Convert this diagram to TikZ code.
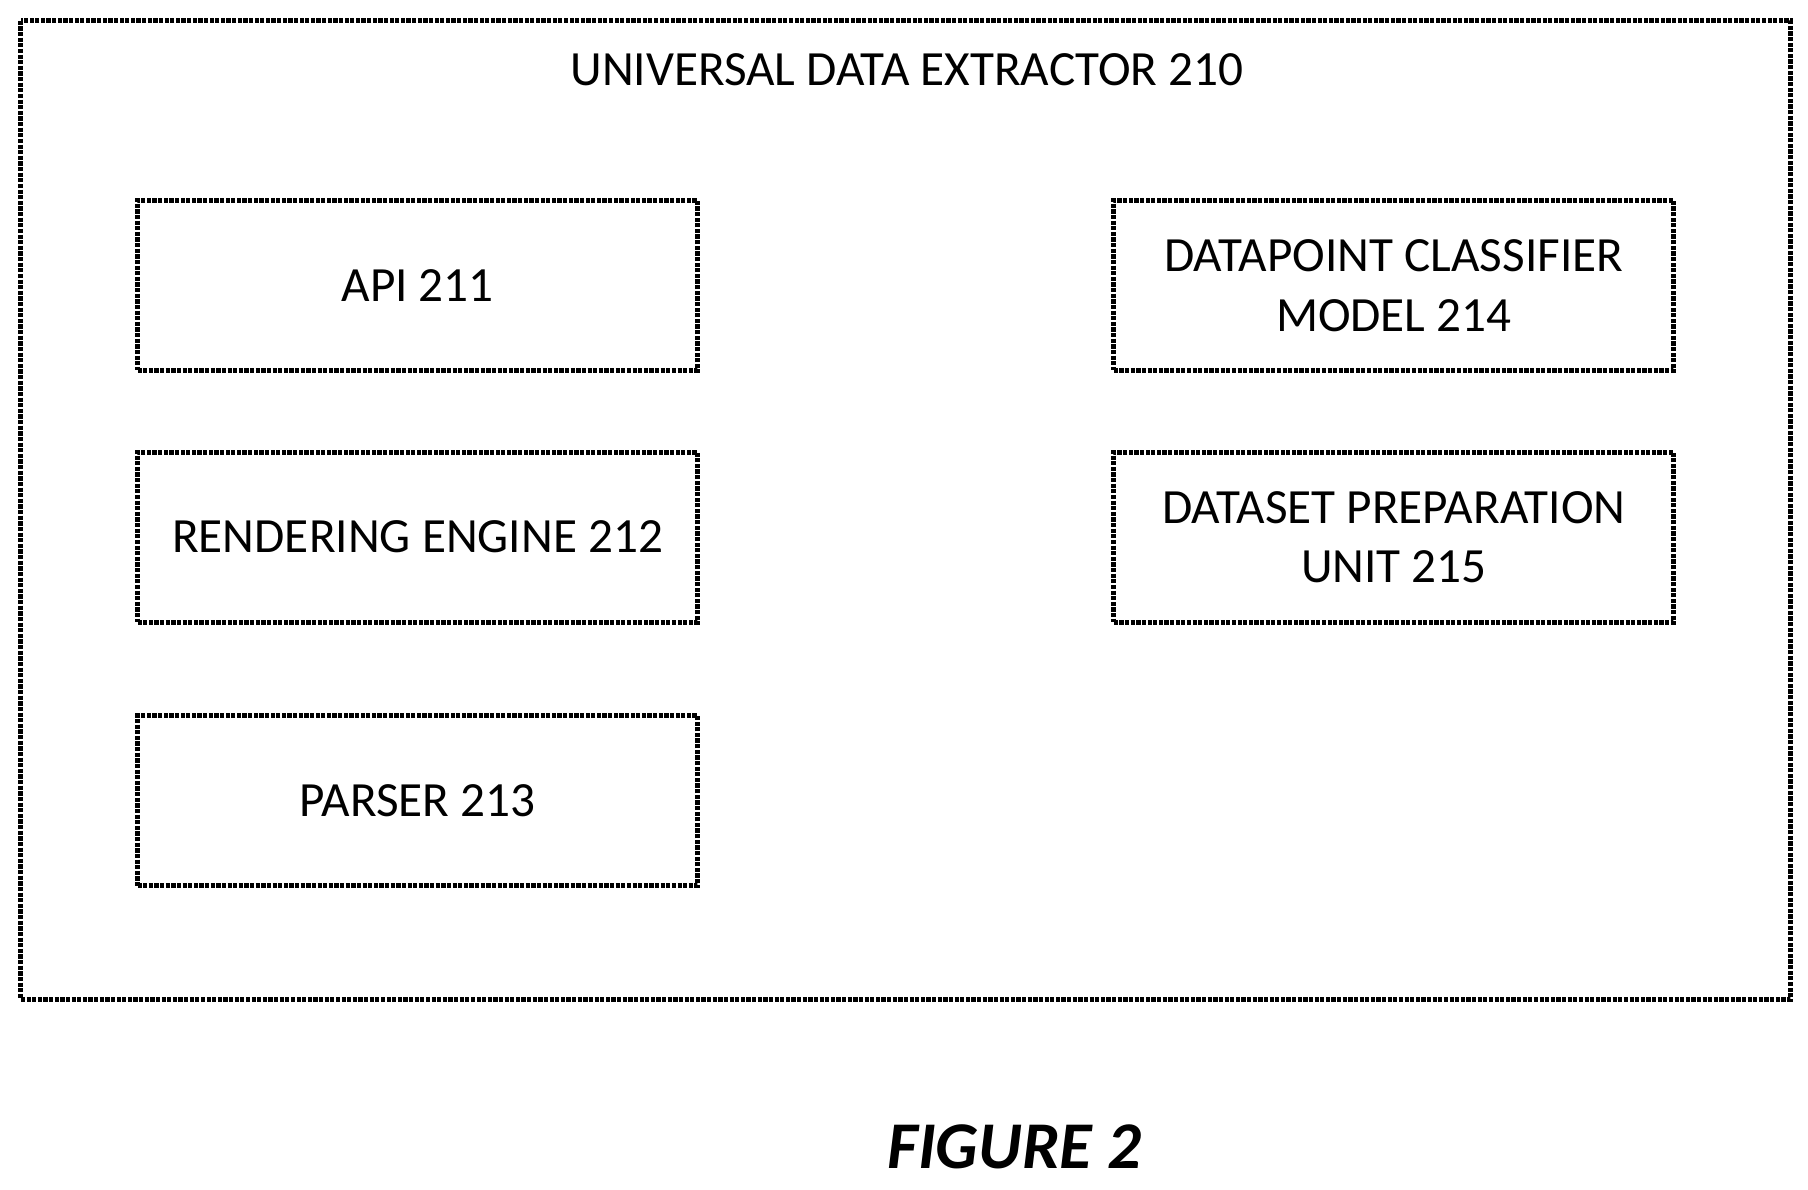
\documentclass[tikz,border=0pt]{standalone}
\usepackage{fontspec}
\setmainfont{Carlito}
\usetikzlibrary{positioning}
\tikzset{
  unit/.style={draw,line width=1.4pt,dash pattern=on 1.2pt off 0.4pt,minimum width=5.6cm,minimum height=1.7cm,align=center,font=\fontsize{14}{17}\selectfont}
}
\begin{document}
\begin{tikzpicture}[x=0.01155cm,y=-0.01155cm]
\useasboundingbox(0,0)rectangle(1565,1029.5);
\draw[line width=1.4pt,dash pattern=on 1.2pt off 0.4pt](18,18)rectangle(1550,865); %extractor
\node[font=\fontsize{14}{17}\selectfont](title)at(785,60){UNIVERSAL DATA EXTRACTOR 210};
%left column
\node[unit](api)at(361.5,247){API 211};
\node[unit](render)at(361.5,465){RENDERING ENGINE 212};
\node[unit](parser)at(361.5,693){PARSER 213};
%right column
\node[unit](classifier)at(1206.5,247){DATAPOINT CLASSIFIER\\MODEL 214};
\node[unit](dataset)at(1206.5,465){DATASET PREPARATION\\UNIT 215};
\node[font=\fontsize{19}{22}\selectfont\bfseries\itshape](fig)at(878,993){FIGURE 2};
\end{tikzpicture}
\end{document}
